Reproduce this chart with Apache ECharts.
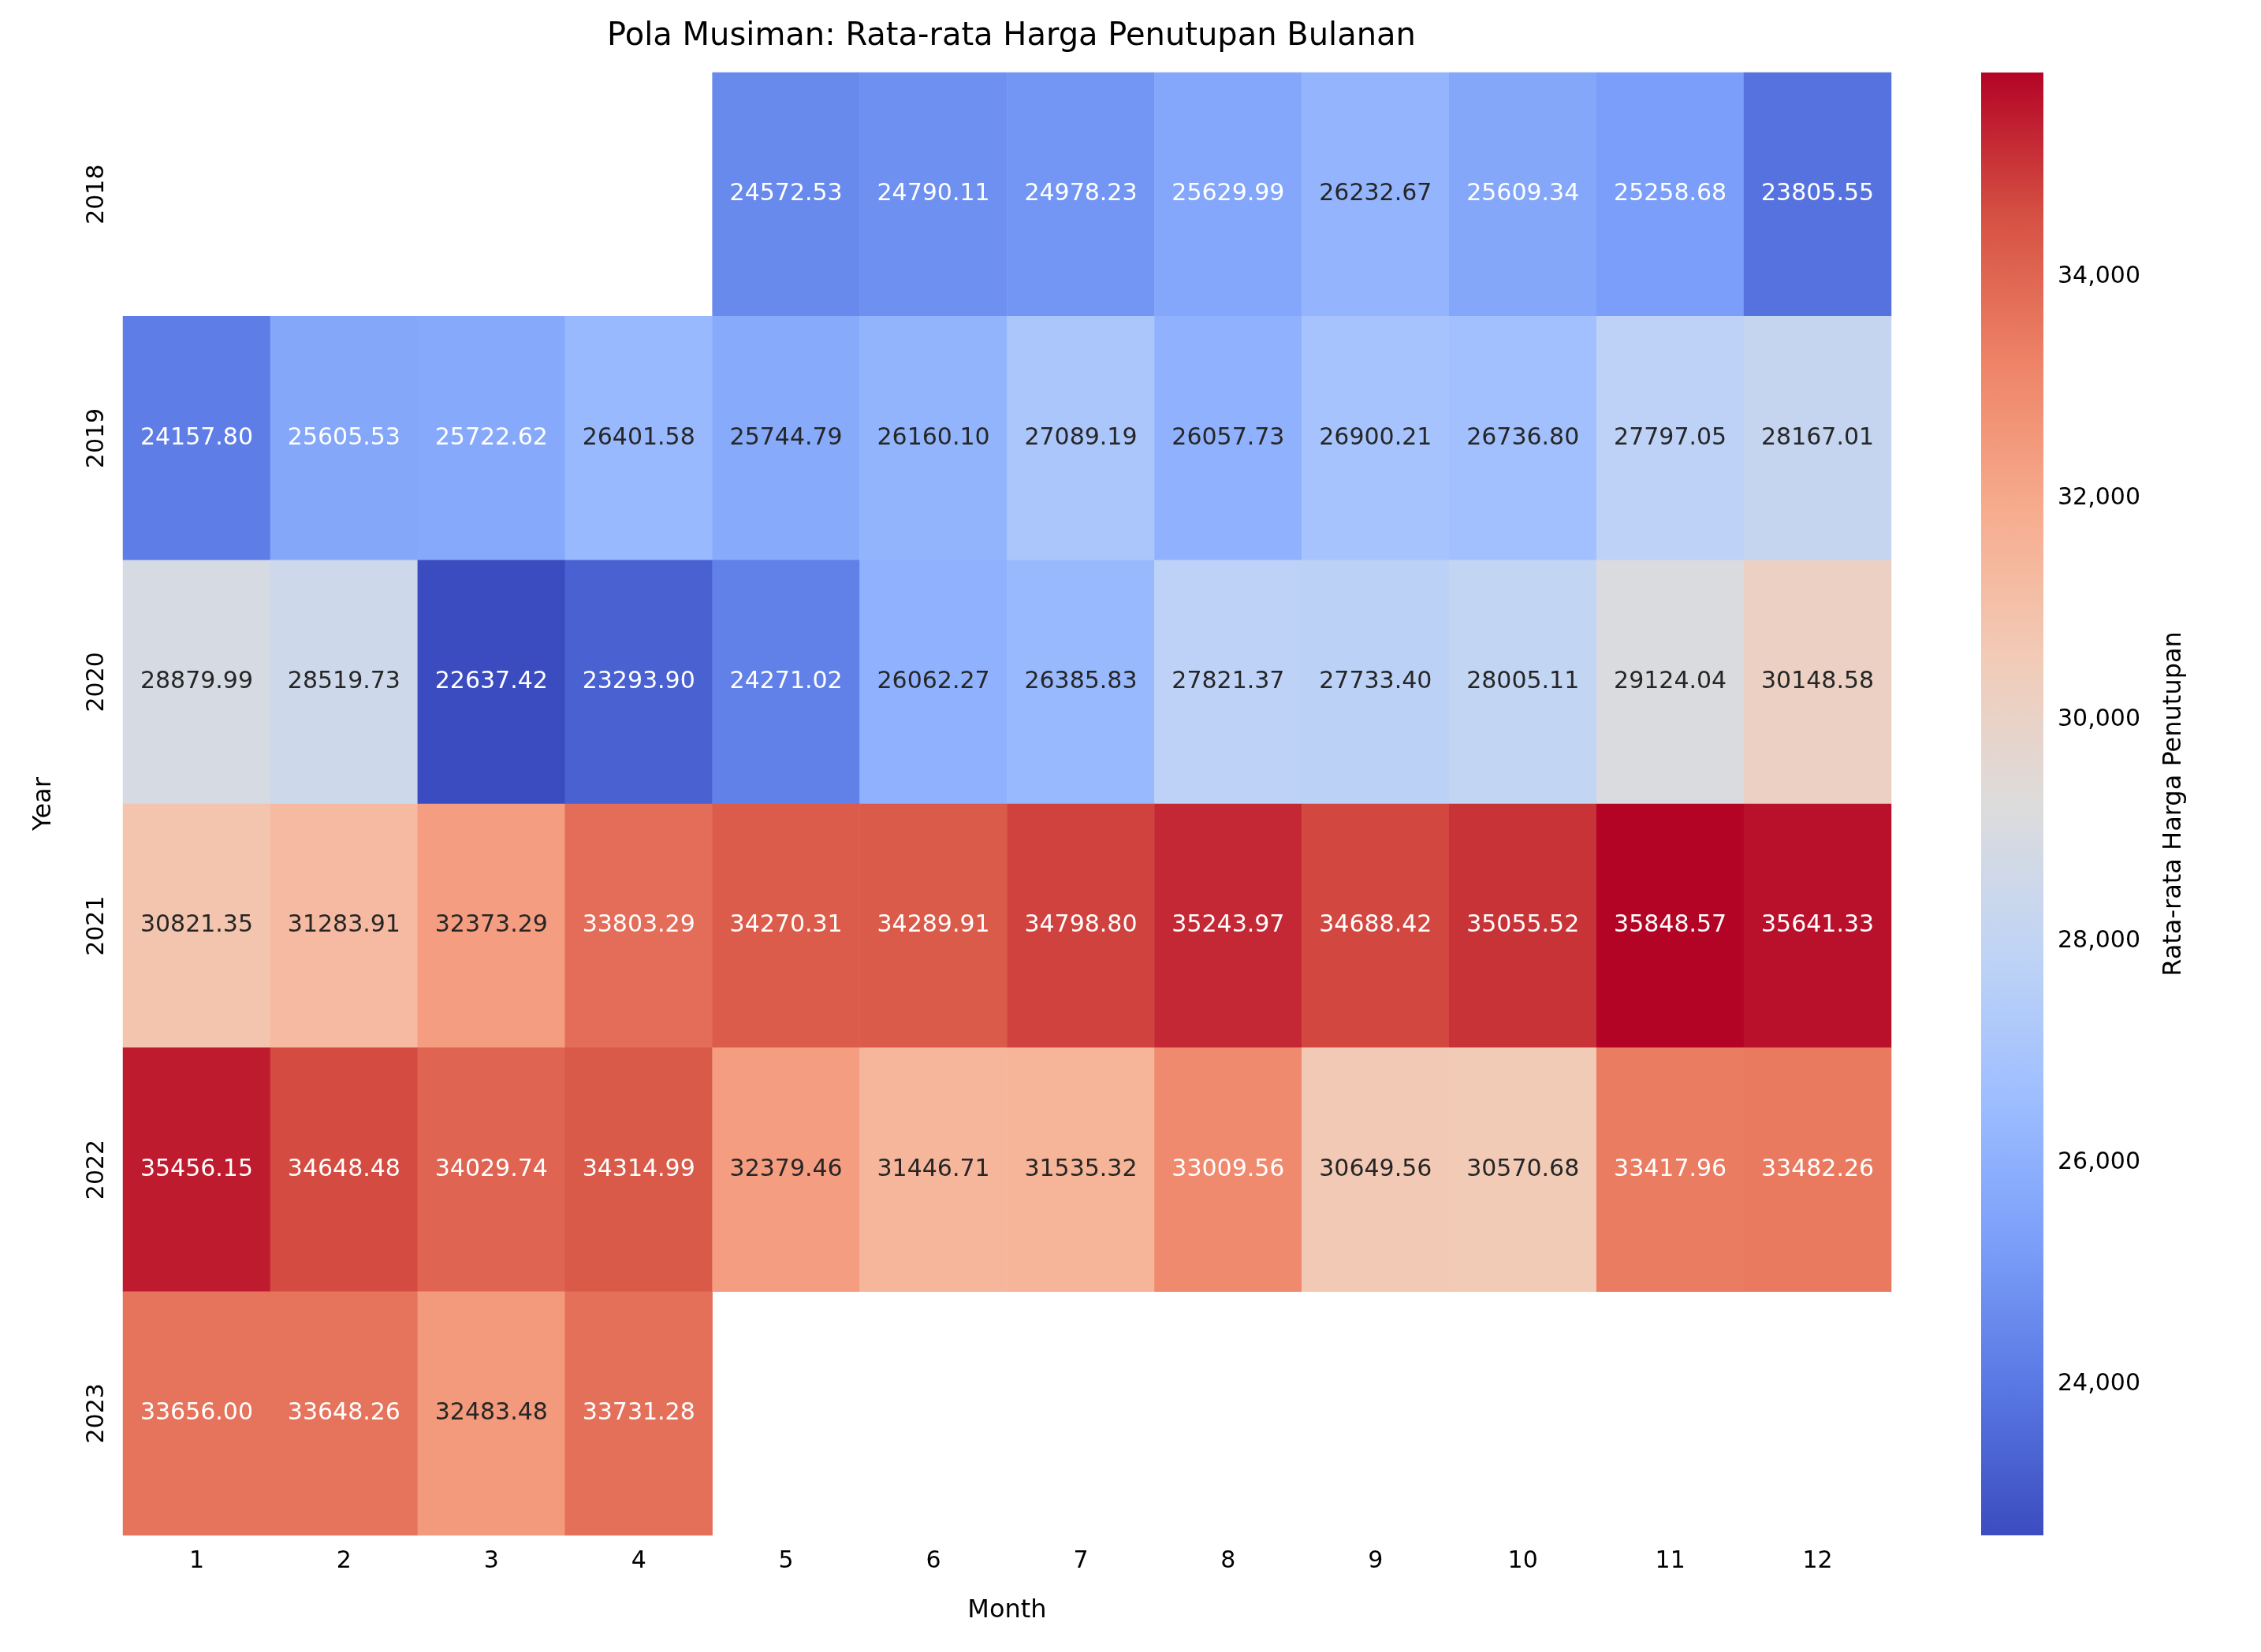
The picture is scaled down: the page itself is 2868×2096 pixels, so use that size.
<!DOCTYPE html>
<html>
<head>
<meta charset="UTF-8">
<title>Pola Musiman</title>
<script src="https://cdn.jsdelivr.net/npm/echarts@6/dist/echarts.min.js"></script>
</head>
<body style="margin:0">
<div id="box" style="width:2868px;height:2096px;"></div>
<script>
var months = ['1','2','3','4','5','6','7','8','9','10','11','12'];
var years = ['2018','2019','2020','2021','2022','2023'];
var y2018 = [null,null,null,null,24572.53,24790.11,24978.23,25629.99,26232.67,25609.34,25258.68,23805.55];
var y2019 = [24157.80,25605.53,25722.62,26401.58,25744.79,26160.10,27089.19,26057.73,26900.21,26736.80,27797.05,28167.01];
var y2020 = [28879.99,28519.73,22637.42,23293.90,24271.02,26062.27,26385.83,27821.37,27733.40,28005.11,29124.04,30148.58];
var y2021 = [30821.35,31283.91,32373.29,33803.29,34270.31,34289.91,34798.80,35243.97,34688.42,35055.52,35848.57,35641.33];
var y2022 = [35456.15,34648.48,34029.74,34314.99,32379.46,31446.71,31535.32,33009.56,30649.56,30570.68,33417.96,33482.26];
var y2023 = [33656.00,33648.26,32483.48,33731.28,null,null,null,null,null,null,null,null];
var rows = [y2018, y2019, y2020, y2021, y2022, y2023];
var cbTicks = [24000, 26000, 28000, 30000, 32000, 34000];

var stops = ['#3b4cc0','#5977e3','#7b9ff9','#9ebeff','#c0d4f5','#dddcdc','#f2cbb7','#f7ac8e','#ee8468','#d65244','#b40426'];
var vmin = 22637.42, vmax = 35848.57;

function hex(c){ return [1,3,5].map(function(i){ return parseInt(c.substr(i,2),16); }); }
function colorAt(v){
  var t = (v - vmin) / (vmax - vmin) * 10;
  var i = Math.min(9, Math.floor(t)), f = t - i;
  var a = hex(stops[i]), b = hex(stops[i+1]);
  return a.map(function(x,k){ return x + (b[k]-x)*f; });
}
function lum(rgb){
  var c = rgb.map(function(x){ x/=255; return x <= 0.03928 ? x/12.92 : Math.pow((x+0.055)/1.055, 2.4); });
  return 0.2126*c[0] + 0.7152*c[1] + 0.0722*c[2];
}

var data = [];
rows.forEach(function(r, yi){
  r.forEach(function(v, xi){
    if (v === null) return;
    data.push({value:[xi, yi, v], label:{color: lum(colorAt(v)) > 0.408 ? '#262626' : '#ffffff'}});
  });
});

var chart = echarts.init(document.getElementById('box'));
chart.setOption({
  backgroundColor:'#fff',
  animation:false,
  textStyle:{fontFamily:'DejaVu Sans'},
  title:{text:'Pola Musiman: Rata-rata Harga Penutupan Bulanan', left:1278, top:22, textAlign:'center',
    textStyle:{fontSize:40, fontWeight:'normal', color:'#000'}},
  grid:[
    {left:156, top:92, width:2243, height:1856},
    {left:2513, top:92, width:79, height:1856}
  ],
  xAxis:[
    {type:'category', data:months, gridIndex:0, name:'Month', nameLocation:'middle', nameGap:80,
     nameTextStyle:{fontSize:32, color:'#000'}, axisLine:{show:false},
     axisTick:{alignWithLabel:true, length:10, lineStyle:{color:'#000', width:2}},
     axisLabel:{fontSize:30, color:'#000', margin:18}},
    {type:'value', gridIndex:1, show:false}
  ],
  yAxis:[
    {type:'category', data:years, inverse:true, gridIndex:0, name:'Year', nameLocation:'middle', nameGap:84,
     nameTextStyle:{fontSize:32, color:'#000'}, axisLine:{show:false},
     axisTick:{alignWithLabel:true, length:10, lineStyle:{color:'#000', width:2}},
     axisLabel:{fontSize:30, color:'#000', rotate:90, margin:18}},
    {type:'value', gridIndex:1, position:'right', min:vmin, max:vmax,
     name:'Rata-rata Harga Penutupan', nameLocation:'middle', nameGap:150, nameRotate:90,
     nameTextStyle:{fontSize:32, color:'#000'},
     splitLine:{show:false}, axisLine:{show:false},
     axisTick:{show:true, length:10, customValues:cbTicks, lineStyle:{color:'#000', width:2}},
     axisLabel:{fontSize:30, color:'#000', margin:18, customValues:cbTicks}}
  ],
  visualMap:{type:'continuous', min:vmin, max:vmax, seriesIndex:0, show:false,
    inRange:{color:stops}},
  series:[
    {type:'heatmap', xAxisIndex:0, yAxisIndex:0, data:data,
     label:{show:true, fontSize:30, formatter:function(p){ return p.value[2].toFixed(2); }}},
    {type:'custom', xAxisIndex:1, yAxisIndex:1, data:[0], silent:true,
     renderItem:function(params, api){
       var x0 = params.coordSys.x, y0 = params.coordSys.y, w = params.coordSys.width, h = params.coordSys.height;
       return {type:'rect', shape:{x:x0, y:y0, width:w, height:h},
         style:{fill:new echarts.graphic.LinearGradient(0,1,0,0, stops.map(function(c,i){ return {offset:i/10, color:c}; }))}};
     }}
  ]
});
</script>
</body>
</html>
